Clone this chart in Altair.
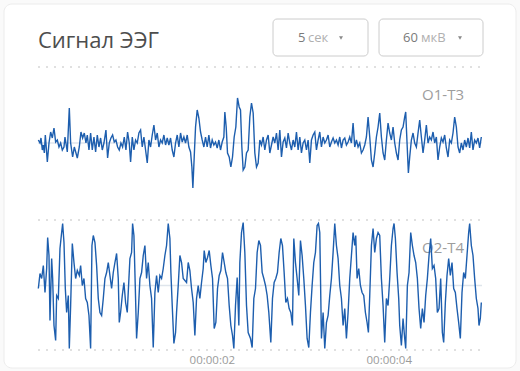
import altair as alt
import pandas as pd

# ---------------- data ----------------
FS = 265.5  # samples per second
CHANNELS = ["O1-T3", "O2-T4"]
TITLE = "Сигнал ЭЭГ"
BTN_TIME = ("5", "сек")
BTN_AMP = ("60", "мкВ")
TICKS = [2, 4]

# O1-T3: sample index, amplitude (uV)
N1 = [10, 15, 18, 22, 25, 28, 31, 37, 42, 47,
      52, 57, 62, 67, 72, 77, 82, 87, 90, 97,
      103, 107, 113, 118, 123, 127, 133, 138, 143, 148,
      153, 157, 162, 167, 172, 177, 182, 187, 192, 197,
      202, 207, 213, 218, 223, 228, 233, 238, 243, 248,
      253, 258, 263, 268, 273, 278, 283, 287, 292, 297,
      302, 307, 312, 317, 322, 327, 332, 337, 342, 347,
      352, 357, 362, 367, 372, 377, 382, 387, 392, 397,
      402, 407, 412, 417, 422, 427, 432, 437, 442, 447,
      452, 457, 462, 467, 471, 474, 478, 482, 487, 492,
      497, 502, 507, 512, 517, 522, 527, 532, 537, 542,
      547, 552, 557, 562, 567, 570, 574, 578, 583, 588,
      593, 598, 603, 608, 613, 617, 621, 625, 630, 635,
      640, 645, 650, 655, 660, 665, 670, 675, 680, 685,
      690, 695, 700, 705, 710, 715, 720, 725, 730, 735,
      740, 745, 750, 755, 760, 765, 770, 775, 780, 785,
      790, 795, 800, 805, 810, 815, 820, 825, 830, 835,
      840, 845, 850, 855, 860, 865, 870, 875, 880, 885,
      890, 895, 900, 905, 910, 915, 920, 925, 930, 935,
      940, 945, 950, 955, 960, 965, 970, 975, 980, 985,
      990, 995, 1000, 1005, 1010, 1015, 1020, 1025, 1030, 1035,
      1040, 1045, 1050, 1055, 1060, 1065, 1070, 1075, 1080, 1085,
      1090, 1095, 1100, 1105, 1110, 1113, 1117, 1121, 1125, 1130,
      1135, 1140, 1145, 1150, 1155, 1160, 1165, 1170, 1175, 1180,
      1185, 1190, 1195, 1200, 1205, 1210, 1215, 1220, 1225, 1230,
      1235, 1240, 1245, 1250, 1255, 1260, 1265, 1270, 1275, 1280,
      1285, 1290, 1295, 1300, 1305, 1310, 1315, 1320, 1325, 1330,
      1335, 1340]
V1 = [3, 0, 5, -7, -2, -10, 8, -19, 0, 11,
      5, 15, 1, 3, -4, 0, -7, -4, 6, -9,
      35, 0, -14, -4, -10, -15, -4, 11, 5, 10,
      0, 8, -7, 10, -7, 6, -9, 8, -4, 5,
      -7, 0, 13, -15, 0, 5, 8, 1, 3, -4,
      -7, 0, -4, 6, -7, 11, 0, -19, 6, -7,
      3, 0, 10, 13, -4, 6, -7, -20, 3, -4,
      8, 18, 3, 10, -4, 3, 0, 8, -2, 5,
      -2, 5, -7, -14, 0, 8, -4, 10, 1, 6,
      0, 8, -4, -9, -24, -45, -14, 16, 33, 25,
      11, 3, -4, 6, -4, 8, -5, 3, -2, 1,
      -5, 3, -7, 1, 6, 31, 16, -10, -14, -24,
      -14, 6, 16, 45, 36, 33, -4, -27, -24, -10,
      -7, 26, 40, 30, -10, -24, -20, 3, -2, 6,
      -7, 3, 8, -10, -2, 6, 0, 10, -7, 13,
      -14, 1, 5, -5, 10, 0, -7, 3, -4, 11,
      -7, 6, -10, 0, 3, -7, 3, -20, 3, 8,
      11, -7, 3, 11, -4, 6, 0, 3, 8, -4,
      1, 5, 0, 3, -2, 6, -5, 3, 5, -2,
      1, 6, 0, 20, -4, 3, -4, 0, -10, -7,
      -2, 6, 26, 6, -17, -24, -10, 6, 16, 30,
      6, -10, -17, 3, 20, 10, 3, 16, 0, -10,
      -17, 3, 13, 16, 26, 31, 0, -30, -14, 3,
      10, 0, -4, 10, 23, 6, -10, 3, 18, 0,
      6, 3, 11, 0, 6, -17, -4, 5, 1, 8,
      -5, -14, 3, 0, 10, 26, 16, -4, -10, 0,
      -7, 3, -4, 5, -5, 11, -7, 3, 0, 5,
      -5, 6]

# O2-T4: sample index, amplitude (uV)
N2 = [10, 15, 20, 25, 30, 35, 38, 42, 45, 50,
      53, 57, 62, 65, 70, 75, 80, 83, 87, 91,
      95, 100, 103, 107, 112, 117, 122, 127, 133, 137,
      142, 147, 152, 157, 162, 167, 171, 175, 180, 185,
      190, 195, 200, 205, 210, 215, 220, 225, 230, 235,
      240, 245, 250, 253, 257, 262, 267, 272, 277, 282,
      285, 290, 293, 297, 301, 305, 310, 315, 320, 325,
      330, 335, 340, 345, 350, 355, 360, 365, 370, 375,
      380, 385, 390, 395, 400, 405, 408, 412, 417, 422,
      425, 430, 435, 440, 445, 455, 460, 465, 470, 475,
      480, 485, 490, 495, 500, 505, 508, 513, 518, 523,
      528, 533, 538, 543, 548, 553, 558, 563, 568, 573,
      578, 583, 588, 593, 597, 602, 607, 612, 615, 620,
      625, 630, 635, 640, 647, 652, 657, 662, 667, 672,
      677, 682, 687, 692, 697, 702, 708, 713, 718, 723,
      728, 733, 738, 743, 748, 753, 758, 763, 768, 773,
      777, 782, 787, 792, 797, 802, 807, 812, 817, 822,
      827, 832, 837, 842, 847, 851, 855, 860, 865, 870,
      875, 880, 885, 890, 895, 900, 905, 910, 915, 920,
      925, 930, 935, 940, 945, 950, 955, 960, 963, 967,
      972, 977, 982, 987, 992, 997, 1001, 1005, 1010, 1015,
      1020, 1025, 1030, 1035, 1040, 1045, 1050, 1055, 1060, 1065,
      1070, 1075, 1078, 1082, 1087, 1092, 1095, 1100, 1105, 1110,
      1113, 1118, 1123, 1128, 1133, 1138, 1143, 1148, 1153, 1158,
      1163, 1168, 1173, 1178, 1183, 1188, 1193, 1198, 1203, 1208,
      1213, 1218, 1223, 1227, 1232, 1237, 1242, 1247, 1252, 1257,
      1262, 1267, 1272, 1277, 1282, 1287, 1292, 1297, 1302, 1305,
      1310, 1315, 1320, 1325, 1330, 1333, 1337, 1340]
V2 = [-3, 12, 7, 20, -7, 17, 48, 30, -35, 27,
      7, -40, -55, -10, -13, 37, 53, 62, 43, -3,
      -27, -10, -63, -20, 42, 23, 7, 15, 10, 20,
      0, 7, -13, -17, -30, -63, 40, 50, 43, 20,
      -13, -27, -30, -13, 7, 13, 23, 10, -3, 13,
      23, 32, 7, -37, -27, -10, 3, -17, -27, 7,
      27, 33, 62, 50, 0, -53, -27, 7, 13, 30,
      40, 7, 23, 0, -13, -62, -7, 10, -7, 10,
      7, 17, 30, 40, 62, 47, 13, -20, -58, -47,
      -27, 0, 30, 23, 7, 3, 23, 15, -3, -17,
      -50, -13, 0, -13, 3, 17, 35, 23, 28, 35,
      20, 7, -43, -37, -3, 10, 15, 33, 23, 13,
      7, -20, -40, -50, -63, -20, 8, -40, 23, 53,
      63, 33, -20, -47, -53, -62, -13, -3, 33, 45,
      40, 13, 7, 0, -10, -27, -57, -13, 3, 7,
      13, 33, 47, 40, 13, -17, -13, -23, -27, -40,
      47, 23, 7, -10, 45, 30, 7, -20, -53, -62,
      -27, 0, 23, 33, 60, 62, 53, -53, -27, -63,
      -37, -30, -10, 7, 33, 62, 40, 27, 0, -13,
      -40, -23, -53, -27, 7, 30, 53, 40, 50, 7,
      17, 0, -7, -10, -27, -37, -47, -10, 40, 57,
      33, 47, 53, 50, 7, -20, -57, -13, -20, 7,
      40, 57, 62, 47, 13, -13, -40, -60, -33, -53,
      -63, 0, 13, 53, 40, 30, 23, 7, -23, -43,
      -23, -37, -10, 7, 30, 47, 17, 20, 7, -27,
      -23, 7, -47, -57, -17, 10, 27, 10, 23, -3,
      -7, -23, -37, -53, -7, 13, 7, 30, 53, 62,
      40, 30, 7, -13, -23, -40, -33, -17]

assert len(N1) == len(V1) and len(N2) == len(V2)

# ---------------- layout ----------------
W, H = 451, 283
LANE_CENTER = {"O1-T3": 207, "O2-T4": 64.5}
LANE_BOUNDS = [283, 130, 0]

rows = []
for ch, ns, vs in ((CHANNELS[0], N1, V1), (CHANNELS[1], N2, V2)):
    for n, v in zip(ns, vs):
        rows.append({"ch": ch, "t": n / FS, "v": v, "y": LANE_CENTER[ch] + v})
df = pd.DataFrame(rows)

FONT = "Open Sans"
yscale = alt.Scale(domain=[0, H], nice=False, zero=False)
xscale = alt.Scale(domain=[0, 5.1], nice=False, zero=False)
one = pd.DataFrame({"k": [0]})

card = alt.Chart(one).mark_rect(
    fill="white", stroke="#ececec", strokeWidth=1, cornerRadius=8
).encode(x=alt.value(-31), x2=alt.value(481), y=alt.value(-63), y2=alt.value(301))

grid = alt.Chart(pd.DataFrame({"b": LANE_BOUNDS})).mark_rule(
    color="#d6d6d6", strokeDash=[2, 6], strokeWidth=1.5
).encode(y=alt.Y("b:Q", scale=yscale, axis=None), x=alt.value(3), x2=alt.value(446))

centers = alt.Chart(pd.DataFrame({"c": list(LANE_CENTER.values())})).mark_rule(
    color="#dfe5ec", strokeWidth=1.5
).encode(y=alt.Y("c:Q", scale=yscale, axis=None), x=alt.value(3), x2=alt.value(447))

lab1 = alt.Chart(one).mark_text(
    text=CHANNELS[0], align="right", baseline="middle", fontSize=15, font=FONT, color="#9d9d9d"
).encode(x=alt.value(429), y=alt.value(28))
lab2 = alt.Chart(one).mark_text(
    text=CHANNELS[1], align="right", baseline="middle", fontSize=15, font=FONT, color="#9d9d9d"
).encode(x=alt.value(429), y=alt.value(181))

lines = alt.Chart(df).mark_line(color="#1d5eae", strokeWidth=1.4).encode(
    x=alt.X("t:Q", scale=xscale, axis=alt.Axis(
        values=TICKS, labelExpr="'00:00:0' + datum.value", title=None,
        domain=False, ticks=False, grid=False, labelColor="#9b9b9b",
        labelFontSize=11.5, labelPadding=4, labelFont=FONT, zindex=2)),
    y=alt.Y("y:Q", scale=yscale, axis=None),
    detail="ch:N",
)

title = alt.Chart(one).mark_text(
    text=TITLE, align="left", baseline="alphabetic", fontSize=22, font=FONT, color="#4d4d4d"
).encode(x=alt.value(3), y=alt.value(-19))

def button(x0, x1, num, unit, xnum, xunit, xcaret):
    box = alt.Chart(one).mark_rect(
        fill="white", stroke="#cccccc", strokeWidth=1, cornerRadius=4
    ).encode(x=alt.value(x0), x2=alt.value(x1), y=alt.value(-48), y2=alt.value(-11))
    t1 = alt.Chart(one).mark_text(
        text=num, align="left", baseline="middle", fontSize=13, font=FONT, color="#7a7a7a"
    ).encode(x=alt.value(xnum), y=alt.value(-29))
    t2 = alt.Chart(one).mark_text(
        text=unit, align="left", baseline="middle", fontSize=13, font=FONT, color="#b0b0b0"
    ).encode(x=alt.value(xunit), y=alt.value(-29))
    caret = alt.Chart(one).mark_point(
        shape="triangle-down", filled=True, size=16, color="#8a8a8a", opacity=1
    ).encode(x=alt.value(xcaret), y=alt.value(-29))
    return [box, t1, t2, caret]

layers = [card, grid, centers, lab1, lab2, lines, title]
layers += button(238, 333, BTN_TIME[0], BTN_TIME[1], 263, 273, 306)
layers += button(344, 448, BTN_AMP[0], BTN_AMP[1], 368, 386, 425)

chart = alt.layer(*layers).properties(
    width=W, height=H,
    autosize=alt.AutoSizeParams(type="none"),
    padding={"left": 35, "top": 67, "right": 34, "bottom": 21},
    background="#fafafa",
).configure_view(stroke=None)

chart.save("out.html", embed_options={"renderer": "svg", "actions": False})
